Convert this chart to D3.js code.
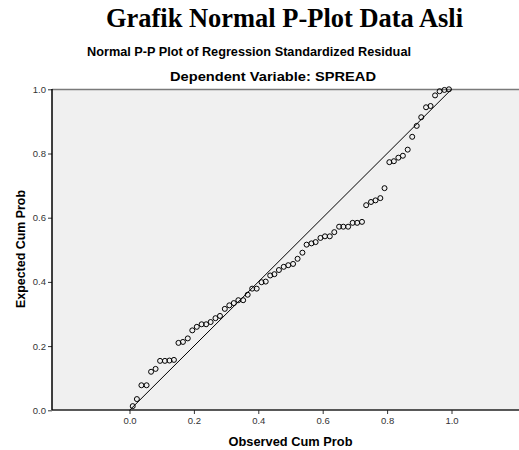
<!DOCTYPE html>
<html>
<head>
<meta charset="utf-8">
<script src="https://cdn.jsdelivr.net/npm/d3@7"></script>
<style>
  body { margin: 0; background: #fff; }
  svg { display: block; }
</style>
</head>
<body>
<script>
// Data
var observed = [0.010, 0.023, 0.037, 0.053, 0.067, 0.081, 0.095, 0.110, 0.124, 0.138,
  0.152, 0.166, 0.181, 0.195, 0.209, 0.224, 0.238, 0.252, 0.267, 0.281,
  0.296, 0.310, 0.324, 0.338, 0.353, 0.367, 0.381, 0.395, 0.410, 0.423,
  0.437, 0.450, 0.464, 0.479, 0.493, 0.508, 0.522, 0.537, 0.550, 0.565,
  0.578, 0.593, 0.607, 0.622, 0.636, 0.651, 0.664, 0.679, 0.693, 0.707,
  0.722, 0.735, 0.750, 0.764, 0.779, 0.792, 0.807, 0.821, 0.835, 0.849,
  0.864, 0.878, 0.892, 0.906, 0.921, 0.935, 0.949, 0.963, 0.978, 0.992];
var expected = [0.013, 0.035, 0.078, 0.078, 0.120, 0.129, 0.154, 0.154, 0.155, 0.157,
  0.210, 0.213, 0.224, 0.249, 0.260, 0.268, 0.268, 0.275, 0.287, 0.294,
  0.316, 0.327, 0.334, 0.343, 0.343, 0.360, 0.379, 0.379, 0.399, 0.401,
  0.420, 0.424, 0.437, 0.447, 0.452, 0.456, 0.472, 0.491, 0.516, 0.520,
  0.524, 0.537, 0.542, 0.542, 0.555, 0.572, 0.572, 0.572, 0.584, 0.584,
  0.587, 0.639, 0.649, 0.654, 0.661, 0.692, 0.773, 0.776, 0.787, 0.793,
  0.812, 0.852, 0.886, 0.913, 0.944, 0.948, 0.981, 0.994, 0.998, 1.000];
var xTicks = [0.0, 0.2, 0.4, 0.6, 0.8, 1.0];
var yTicks = [0.0, 0.2, 0.4, 0.6, 0.8, 1.0];

var points = [];
for (i = 0; i < observed.length; i++) {
  points.push({x: observed[i], y: expected[i]});
}

var width = 519;
var height = 450;

// plot box edges
const box = { left: 52, right: 519, top: 89, bottom: 410 };
const sans = "Liberation Sans, Arial, sans-serif";

const svg = d3.select("body")
  .append("svg")
  .attr("width", width)
  .attr("height", height);

// Titles
svg.append("text")
  .attr("x", 284.5)
  .attr("y", 27)
  .attr("text-anchor", "middle")
  .attr("textLength", 357)
  .attr("lengthAdjust", "spacingAndGlyphs")
  .style("font-family", "Liberation Serif, Times New Roman, serif")
  .style("font-weight", "bold")
  .style("font-size", "26.5px")
  .text("Grafik Normal P-Plot Data Asli");

svg.append("text")
  .attr("x", 249)
  .attr("y", 56)
  .attr("text-anchor", "middle")
  .attr("textLength", 324)
  .attr("lengthAdjust", "spacingAndGlyphs")
  .style("font-family", sans)
  .style("font-weight", "bold")
  .style("font-size", "12.5px")
  .text("Normal P-P Plot of Regression Standardized Residual");

svg.append("text")
  .attr("x", 273)
  .attr("y", 81)
  .attr("text-anchor", "middle")
  .attr("textLength", 206)
  .attr("lengthAdjust", "spacingAndGlyphs")
  .style("font-family", sans)
  .style("font-weight", "bold")
  .style("font-size", "13px")
  .text("Dependent Variable: SPREAD");

// Scales
const xscale = d3.scaleLinear().domain([0, 1]).range([129.5, 451.5]);
const yscale = d3.scaleLinear().domain([0, 1]).range([410.3, 89.3]);

// Plot background
svg.append("rect")
  .attr("x", box.left)
  .attr("y", box.top)
  .attr("width", box.right - box.left)
  .attr("height", box.bottom - box.top)
  .attr("fill", "#f0f0f0");

svg.append("line")
  .attr("x1", box.left).attr("x2", box.right)
  .attr("y1", box.top + 0.5).attr("y2", box.top + 0.5)
  .attr("stroke", "#7a7a7a")
  .attr("stroke-width", 1.5);

// Axes
const xaxis = d3.axisBottom(xscale)
  .tickValues(xTicks)
  .tickFormat(d3.format(".1f"))
  .tickSize(4)
  .tickPadding(3);
const yaxis = d3.axisLeft(yscale)
  .tickValues(yTicks)
  .tickFormat(d3.format(".1f"))
  .tickSize(4)
  .tickPadding(2);

const gx = svg.append("g")
  .attr("transform", `translate(0,${box.bottom})`)
  .call(xaxis);
gx.select(".domain").remove();
gx.append("line")
  .attr("x1", box.left).attr("x2", box.right)
  .attr("y1", 0).attr("y2", 0)
  .attr("stroke", "#222")
  .attr("stroke-width", 1.5);

const gy = svg.append("g")
  .attr("transform", `translate(${box.left},0)`)
  .call(yaxis);
gy.select(".domain").remove();
gy.append("line")
  .attr("x1", 0).attr("x2", 0)
  .attr("y1", box.top).attr("y2", box.bottom)
  .attr("stroke", "#000")
  .attr("stroke-width", 1.5);

svg.selectAll(".tick text")
  .style("font-family", sans)
  .style("font-size", "9.5px")
  .attr("fill", "#333");
svg.selectAll(".tick line").attr("stroke", "#333");

// Axis titles
svg.append("text")
  .attr("x", 290.5)
  .attr("y", 446)
  .attr("text-anchor", "middle")
  .attr("textLength", 124)
  .attr("lengthAdjust", "spacingAndGlyphs")
  .style("font-family", sans)
  .style("font-weight", "bold")
  .style("font-size", "12.5px")
  .text("Observed Cum Prob");

svg.append("text")
  .attr("transform", "translate(25,249) rotate(-90)")
  .attr("text-anchor", "middle")
  .attr("textLength", 118)
  .attr("lengthAdjust", "spacingAndGlyphs")
  .style("font-family", sans)
  .style("font-weight", "bold")
  .style("font-size", "12px")
  .text("Expected Cum Prob");

// Reference diagonal
svg.append("line")
  .attr("x1", xscale(0)).attr("y1", yscale(0))
  .attr("x2", xscale(1)).attr("y2", yscale(1))
  .attr("stroke", "#000")
  .attr("stroke-width", 1);

// Points
svg.append("g")
  .selectAll("circle")
  .data(points)
  .enter()
  .append("circle")
  .attr("cx", d => xscale(d.x))
  .attr("cy", d => yscale(d.y))
  .attr("r", 2.5)
  .attr("fill", "none")
  .attr("stroke", "#000")
  .attr("stroke-width", 1);
</script>
</body>
</html>
